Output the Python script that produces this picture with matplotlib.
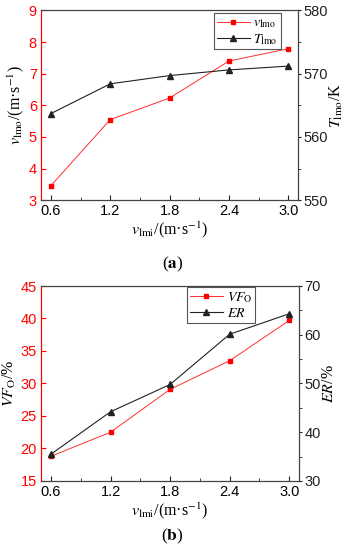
import matplotlib
matplotlib.use('Agg')
import matplotlib.pyplot as plt
from matplotlib.ticker import MultipleLocator
from matplotlib.lines import Line2D

# Data
v_lmi = [0.6, 1.2, 1.8, 2.4, 3.0]
v_lmo = [3.46, 5.55, 6.23, 7.40, 7.79]
T_lmo = [563.7, 568.4, 569.7, 570.6, 571.2]
VF_o = [18.8, 22.5, 29.1, 33.5, 39.7]
ER = [35.5, 44.2, 49.8, 60.1, 64.3]
x_ticks = [0.6, 1.2, 1.8, 2.4, 3.0]

plt.rcParams['font.family'] = ['Liberation Sans', 'DejaVu Sans']
plt.rcParams['mathtext.fontset'] = 'stix'

RED = '#ff0000'
BLK = '#222222'
serif = 'Liberation Serif'

fig = plt.figure(figsize=(3.45, 5.5), dpi=100)


def panel(rect, y1, y2, ylim1, ylim2, step1, step2, leg1, leg2,
          ylabel1, ylabel2, leg_box, tag, tag_y):
    ax = fig.add_axes(rect)
    ax2 = ax.twinx()

    ax.plot(v_lmi, y1, color='#ff3030', lw=0.7, marker='s', ms=3.5,
            mfc=RED, mec=RED, zorder=3)
    ax2.plot(v_lmi, y2, color=BLK, lw=0.8, marker='^', ms=4, zorder=3)

    ax.set_xlim(0.5, 3.1)
    ax.set_xticks(x_ticks)
    ax.set_xticklabels(['0.6', '1.2', '1.8', '2.4', '3.0'])
    ax.xaxis.set_minor_locator(MultipleLocator(0.3))
    ax.set_ylim(*ylim1)
    ax.yaxis.set_major_locator(MultipleLocator(step1))
    ax2.set_ylim(*ylim2)
    ax2.yaxis.set_major_locator(MultipleLocator(step2))
    ax2.yaxis.set_minor_locator(MultipleLocator(step2 / 2))

    ax.tick_params(axis='x', direction='in', length=3.5, labelsize=10.5,
                   pad=3, color=BLK)
    ax.tick_params(axis='x', which='minor', direction='in', length=2, color=BLK)
    ax.tick_params(axis='y', direction='in', length=3.5, labelsize=10.5,
                   colors=RED, pad=3)
    ax2.tick_params(axis='y', direction='out', length=2.5, labelsize=10.5,
                    colors=BLK, pad=1.5)
    ax2.tick_params(axis='y', which='minor', direction='out', length=1.8,
                    colors=BLK)
    ax2.spines['left'].set_color(RED)
    ax.spines['left'].set_color(RED)
    for s in ['top', 'right', 'bottom']:
        ax2.spines[s].set_color('#444444')

    ax.set_ylabel(ylabel1, fontsize=11.5, family=serif, labelpad=2)
    ax2.set_ylabel(ylabel2, fontsize=11.5, family=serif, labelpad=0)
    ax.set_xlabel(r'$\mathit{v}_{\mathrm{lmi}}$/(m·s$^{\mathrm{-1}}$)',
                  fontsize=11.5, family=serif, labelpad=1)

    handles = [Line2D([0], [0], color='#ff3030', lw=0.7, marker='s', ms=3.5,
                      mfc=RED, mec=RED),
               Line2D([0], [0], color=BLK, lw=0.8, marker='^', ms=4)]
    leg = ax2.legend(handles, [leg1, leg2], loc='upper left',
                     bbox_to_anchor=leg_box, bbox_transform=fig.transFigure,
                     fancybox=False, edgecolor='#555555', framealpha=1,
                     fontsize=10, handlelength=2.4, handletextpad=0.25,
                     borderpad=0.2, labelspacing=0.12, borderaxespad=0)
    leg.get_frame().set_linewidth(0.8)

    fig.text(0.5, tag_y, tag, ha='center', va='center', fontsize=12.5,
             family=serif)
    return ax, ax2


panel([0.119, 0.636, 0.745, 0.345], v_lmo, T_lmo, (3, 9), (550, 580), 1, 10,
      r'$\mathit{v}_{\mathrm{lmo}}$', r'$\mathit{T}_{\mathrm{lmo}}$',
      r'$\mathit{v}_{\mathrm{lmo}}$/(m·s$^{\mathrm{-1}}$)',
      r'$\mathit{T}_{\mathrm{lmo}}$/K',
      (0.62, 0.977), r'($\mathbf{a}$)', 0.52)

panel([0.119, 0.1255, 0.748, 0.3545], VF_o, ER, (15, 45), (30, 70), 5, 10,
      r'$\mathit{VF}_{\mathrm{O}}$', r'$\mathit{ER}$',
      r'$\mathit{VF}_{\mathrm{O}}$/%', r'$\mathit{ER}$/%',
      (0.542, 0.478), r'($\mathbf{b}$)', 0.024)

fig.savefig('out.png', dpi=100)
